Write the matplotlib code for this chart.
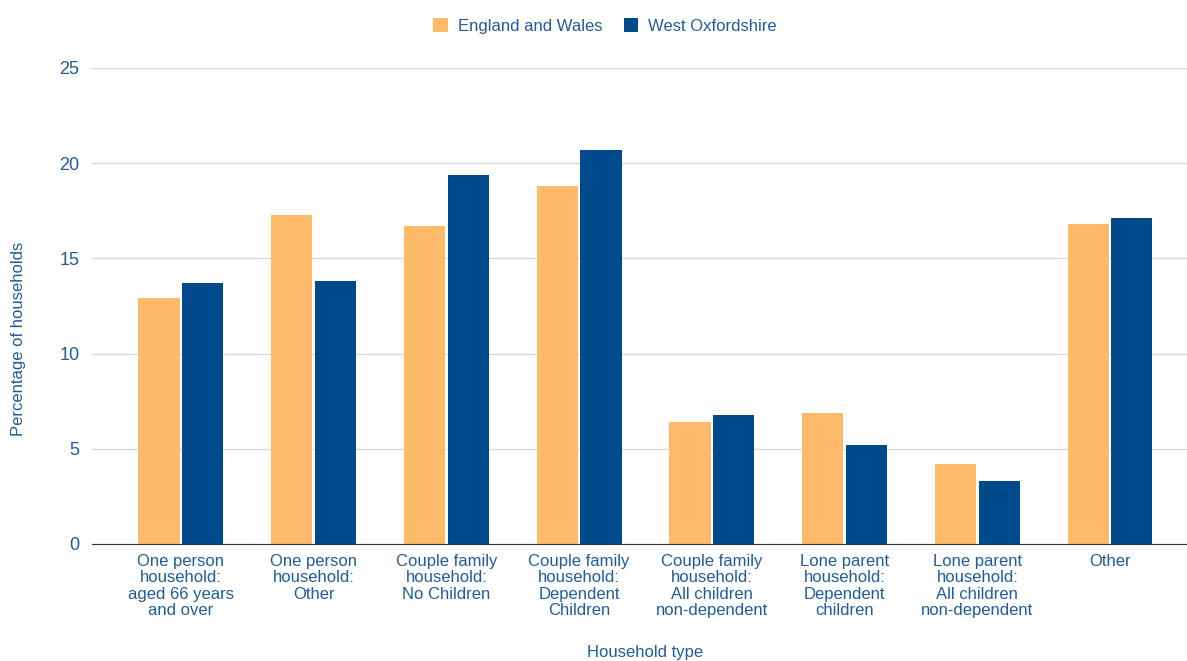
import numpy as np
import matplotlib.pyplot as plt

plt.rcParams["font.family"] = ["Liberation Sans", "DejaVu Sans"]

categories = [
    "One person\nhousehold:\naged 66 years\nand over",
    "One person\nhousehold:\nOther",
    "Couple family\nhousehold:\nNo Children",
    "Couple family\nhousehold:\nDependent\nChildren",
    "Couple family\nhousehold:\nAll children\nnon-dependent",
    "Lone parent\nhousehold:\nDependent\nchildren",
    "Lone parent\nhousehold:\nAll children\nnon-dependent",
    "Other",
]
england_wales = [12.9, 17.3, 16.7, 18.8, 6.4, 6.9, 4.2, 16.8]
west_oxon = [13.7, 13.8, 19.4, 20.7, 6.8, 5.2, 3.3, 17.1]

txt = "#1f5c99"
c_ew = "#fdba6b"
c_wo = "#00498a"

fg = plt.figure(figsize=(11.87, 6.61), dpi=100)
ax = fg.add_axes([92 / 1187, 1 - 544 / 661, (1187 - 92) / 1187, (544 - 68) / 661])

x = np.arange(len(categories))
w = 0.31
ax.bar(x - 0.165, england_wales, w, color=c_ew, label="England and Wales", zorder=3)
ax.bar(x + 0.165, west_oxon, w, color=c_wo, label="West Oxfordshire", zorder=3)

ax.set_xlim(-0.67, 7.58)
ax.set_ylim(0, 25)
ax.set_yticks([0, 5, 10, 15, 20, 25])
ax.set_xticks(x)
ax.set_xticklabels(categories, fontsize=12, color=txt, linespacing=1.12)
ax.tick_params(axis="y", labelsize=13, labelcolor=txt, length=0, pad=9)
ax.tick_params(axis="x", length=0, pad=7)
ax.grid(axis="y", color="#d9d9d9", linewidth=1, zorder=0)
for s in ["top", "right", "left"]:
    ax.spines[s].set_visible(False)
ax.spines["bottom"].set_color("#333333")
ax.spines["bottom"].set_zorder(4)

fg.text(19 / 1187, 1 - 339 / 661, "Percentage of households", fontsize=12, color=txt,
        rotation=90, ha="center", va="center")
fg.text(645 / 1187, 1 - 652 / 661, "Household type", fontsize=12, color=txt,
        ha="center", va="center")

leg = fg.legend(loc="center", bbox_to_anchor=(605 / 1187, 1 - 26 / 661), ncol=2,
                frameon=False, fontsize=12, handlelength=0.85, handleheight=0.85,
                columnspacing=1.3, handletextpad=0.6)
for t in leg.get_texts():
    t.set_color(txt)

fg.savefig("out.png", dpi=100)
